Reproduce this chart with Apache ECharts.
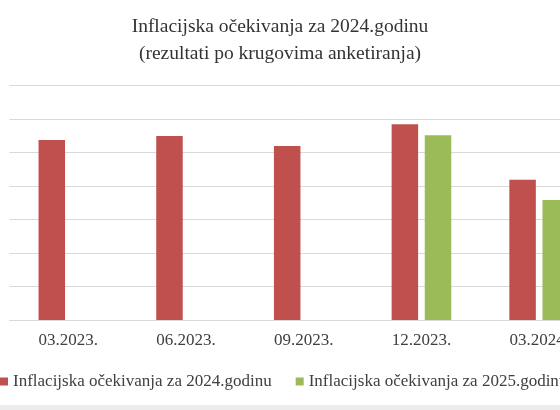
<!DOCTYPE html>
<html lang="hr">
<head>
	<meta charset="utf-8">
	<title>Inflacijska očekivanja</title>
	<script src="https://cdn.jsdelivr.net/npm/echarts@6/dist/echarts.min.js"></script>
</head>
<style>
	html,body{width: 100%; height: 100%; padding: 0; margin: 0; overflow: hidden; background: #fff;}
	/* grafikon je širi od prozora, desni dio je odrezan kao na izvornoj slici */
	.main{width: 600px; height: 410px;}
</style>
<body>
	<div id="main" class="main"></div>
</body>
<script type="text/javascript">
	// krugovi anketiranja
	var kategorije = ['03.2023.', '06.2023.', '09.2023.', '12.2023.', '03.2024.'];
	var ocekivanja2024 = [5.37, 5.49, 5.19, 5.84, 4.18];
	var ocekivanja2025 = ['-', '-', '-', 5.51, 3.58];
	var naziv2024 = 'Inflacijska očekivanja za 2024.godinu';
	var naziv2025 = 'Inflacijska očekivanja za 2025.godinu';

	var serif = '"Liberation Serif", "DejaVu Serif", serif';
	var myChart = echarts.init(document.getElementById('main'));
	var option = {
		animation: false,
		title: {
			text: 'Inflacijska očekivanja za 2024.godinu\n(rezultati po krugovima anketiranja)',
			left: 280,
			textAlign: 'center',
			top: 13,
			padding: 0,
			textStyle: {
				fontFamily: serif,
				fontSize: 19.5,
				fontWeight: 'normal',
				color: '#333',
				lineHeight: 27
			}
		},
		legend: {
			left: 0,
			top: 373,
			padding: 0,
			icon: 'rect',
			itemWidth: 8,
			itemHeight: 8,
			itemGap: 24,
			textStyle: {
				fontFamily: serif,
				fontSize: 17,
				color: '#404040'
			},
			data: [naziv2024, naziv2025]
		},
		grid: {
			left: 9.5,
			top: 85.3,
			width: 588.5,
			height: 234.7
		},
		xAxis: {
			type: 'category',
			data: kategorije,
			axisTick: {show: false},
			axisLine: {lineStyle: {color: '#d9d9d9', width: 1}},
			axisLabel: {
				margin: 12,
				fontFamily: serif,
				fontSize: 17,
				color: '#404040'
			}
		},
		yAxis: {
			type: 'value',
			min: 0,
			max: 7,
			interval: 1,
			axisLabel: {show: false},
			axisLine: {show: false},
			axisTick: {show: false},
			splitLine: {lineStyle: {color: '#d9d9d9', width: 1}}
		},
		series: [{
			name: naziv2024,
			type: 'bar',
			data: ocekivanja2024,
			barWidth: 26.5,
			barGap: '25%',
			itemStyle: {color: '#c0504d'}
		}, {
			name: naziv2025,
			type: 'bar',
			data: ocekivanja2025,
			barWidth: 26.5,
			itemStyle: {color: '#9bbb59'}
		}],
		graphic: [{
			type: 'rect',
			left: 0,
			top: 405,
			shape: {width: 600, height: 5},
			style: {fill: '#ececec'}
		}]
	};
	myChart.setOption(option);
</script>
</html>
